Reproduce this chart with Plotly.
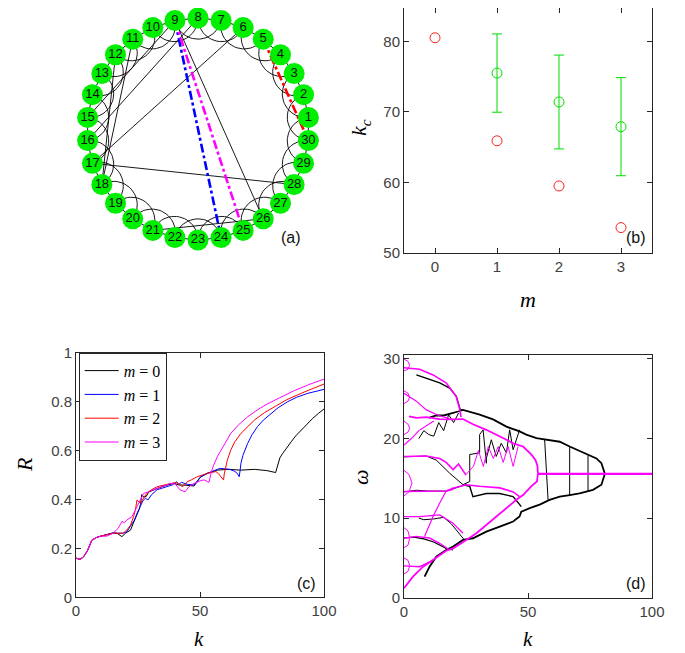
import math
import plotly.graph_objects as go

# ---------------- (a) network data ----------------
node_ids = list(range(1, 31))
ring_steps = [1, 2]
chords = [(9, 26), (9, 15), (8, 16), (6, 17), (17, 28), (21, 26), (12, 18), (11, 18)]
highlight_edges = [(5, 30), (9, 24), (9, 25)]
highlight_colors = ["#ff0000", "#0000ff", "#ff00ff"]

# ---------------- (b) data ----------------
m_vals = [0, 1, 2, 3]
kc_red = [80.5, 65.9, 59.5, 53.6]
m_green = [1, 2, 3]
kc_green = [75.5, 71.4, 67.9]
kc_green_err = [5.55, 6.65, 6.95]

# ---------------- (c) data ----------------
k0 = [0, 1.6, 3, 4.6, 6.4, 8.4, 10, 12.4, 15, 16.5, 17.5, 18.5, 20, 22, 23, 24.6, 25.5, 26, 26.5, 27.3, 28.3, 29.3,
      32.7, 36.8, 39.5, 41.5, 43.5, 47.6, 48.5, 50.3, 53, 57, 61, 66.5, 72, 77, 80.5, 81, 81.4, 82.2, 83.4, 85, 86.8,
      88.6, 90.8, 93, 95.5, 97.8, 100]
R0 = [0.16, 0.155, 0.165, 0.19, 0.234, 0.245, 0.25, 0.256, 0.264, 0.262, 0.255, 0.248, 0.262, 0.275, 0.30, 0.336, 0.36,
      0.38, 0.42, 0.41, 0.412, 0.43, 0.445, 0.459, 0.466, 0.459, 0.459, 0.455, 0.468, 0.493, 0.507, 0.52, 0.523, 0.52,
      0.523, 0.518, 0.51, 0.53, 0.548, 0.57, 0.589, 0.613, 0.636, 0.66, 0.684, 0.709, 0.732, 0.752, 0.77]
k1 = [0, 1.6, 3, 4.6, 6.4, 8.4, 10, 12.4, 15, 17, 19, 20.5, 22, 23.5, 24.6, 26, 27, 28, 29, 30.5, 32.7, 35, 37, 39,
      40.5, 41.5, 42.5, 44.9, 47.6, 50, 53, 55, 58, 62, 64, 65, 65.8, 66.2, 66.5, 67.3, 68.2, 69.2, 71, 73.2, 75.5,
      78.6, 81.5, 85.4, 89, 93.5, 97, 100]
R1 = [0.16, 0.155, 0.165, 0.19, 0.234, 0.245, 0.25, 0.256, 0.262, 0.262, 0.262, 0.268, 0.29, 0.315, 0.343, 0.37, 0.395,
      0.405, 0.398, 0.42, 0.44, 0.447, 0.455, 0.46, 0.472, 0.462, 0.47, 0.462, 0.459, 0.49, 0.507, 0.515, 0.527, 0.523,
      0.515, 0.507, 0.493, 0.52, 0.548, 0.58, 0.605, 0.629, 0.665, 0.698, 0.724, 0.752, 0.775, 0.8, 0.818, 0.834,
      0.844, 0.85]
k2 = [0, 1.6, 3, 4.6, 6.4, 8.4, 10, 12.4, 15, 17, 19, 20.5, 22, 23.2, 24, 24.6, 25.3, 26, 27.5, 28.6, 30.5, 32.7, 36,
      40.1, 41.5, 42.8, 44, 44.9, 46.5, 48.9, 51, 53, 56.4, 57.5, 58.4, 59.5, 59.8, 60.3, 61, 62.4, 64, 66.5, 69, 72,
      76, 80, 85, 90.8, 95, 100]
R2 = [0.16, 0.155, 0.165, 0.19, 0.234, 0.245, 0.25, 0.256, 0.262, 0.262, 0.262, 0.275, 0.295, 0.33, 0.36, 0.398, 0.39,
      0.384, 0.41, 0.425, 0.44, 0.452, 0.46, 0.469, 0.465, 0.452, 0.46, 0.473, 0.48, 0.493, 0.5, 0.507, 0.514, 0.505,
      0.493, 0.48, 0.505, 0.53, 0.56, 0.602, 0.635, 0.67, 0.697, 0.725, 0.755, 0.78, 0.808, 0.834, 0.852, 0.872]
k3 = [0, 1.6, 3, 4.6, 6.4, 8.4, 10, 12.4, 15, 17, 18, 18.5, 19.5, 20.5, 22.6, 24.6, 26, 27.3, 29, 30, 32.7, 35, 38, 40,
      41, 42, 43, 44, 45.5, 47.6, 50.3, 51.6, 53, 53.6, 54, 54.3, 54.6, 55.5, 57, 59, 62.4, 65.5, 69.2, 73, 77, 82, 88,
      94, 100]
R3 = [0.16, 0.155, 0.165, 0.19, 0.234, 0.245, 0.25, 0.25, 0.262, 0.282, 0.3, 0.31, 0.305, 0.316, 0.33, 0.37, 0.395,
      0.425, 0.43, 0.436, 0.445, 0.455, 0.466, 0.463, 0.452, 0.439, 0.435, 0.432, 0.452, 0.466, 0.477, 0.48, 0.473,
      0.47, 0.486, 0.5, 0.514, 0.54, 0.575, 0.61, 0.67, 0.705, 0.738, 0.765, 0.79, 0.815, 0.845, 0.87, 0.892]
legend_names = ["<i>m</i> = 0", "<i>m</i> = 1", "<i>m</i> = 2", "<i>m</i> = 3"]
curve_colors = ["#000000", "#0000ff", "#ff0000", "#ff00ff"]
R_ticks = [0, 0.2, 0.4, 0.6, 0.8, 1]
R_ticklabels = ["0", "0.2", "0.4", "0.6", "0.8", "1"]

# ---------------- (d) data (k, omega) ----------------
# m = 0 (black)
b_top_k = [81, 79.6, 77.6, 74.2, 70.8, 66.8, 62.8, 57.4, 53.4, 49.3, 46.6, 41.3, 35.9, 30.5, 26.5, 23.8, 21.8, 19.8, 16, 13, 10]
b_top_w = [15.57, 16.9, 17.5, 17.96, 18.4, 19.0, 19.6, 19.9, 20.06, 20.5, 20.9, 21.5, 22.4, 23.0, 23.4, 23.6, 23.4, 23.2, 22.9, 22.9, 22.6]
b_bot_k = [81, 79.6, 76.2, 70.8, 66.8, 62.8, 58.7, 54.7, 50.7, 47.3, 46.6, 44, 38.6, 33.2, 27.8, 23.8, 19.8, 17, 13, 10.3, 8.3]
b_bot_w = [15.57, 14.2, 13.55, 13.1, 12.9, 12.7, 12.3, 11.7, 11.25, 10.8, 10.2, 9.57, 8.94, 8.3, 7.47, 7.26, 6.42, 6.0, 5.16, 3.9, 2.64]
b_sync_k = [81, 100]
b_sync_w = [15.57, 15.57]
b_vert_k = [56.7, 58.1, None, 66.8, 66.8, None, 74.2, 74.2]
b_vert_w = [19.9, 12.3, None, 19.0, 12.9, None, 17.9, 13.4]
b_zig_k = [23.8, 26.5, 26.5, 30.5, 30.5, 31.9, 33.2, 33.2, 35.2, 37.2, 39.2, 41.3, 42.6, 44, 46.6]
b_zig_w = [14.2, 14.6, 18.0, 18.2, 20.5, 21.1, 16.9, 17.5, 19.85, 17.75, 19.4, 18.2, 21.1, 18.6, 21.1]
b_low_k = [23.8, 26.5, 27.8, 33.2, 38.6, 44, 47.3]
b_low_w = [14.2, 14.0, 12.7, 13.1, 13.1, 12.7, 11.45]
b_diag_k = [0, 5, 9, 13, 18.4, 23.8]
b_diag_w = [17.7, 17.8, 17.8, 17.3, 15.65, 14.2]
b_tl_k = [5, 9, 14.4, 18.4, 21.1, 22.7, 23.8]
b_tl_w = [28.0, 27.6, 27.0, 26.35, 25.3, 23.6, 23.6]
b_mid_k = [6, 8, 10, 12, 14, 16, 18, 20, 22]
b_mid_w = [20.0, 21.0, 20.5, 20.3, 22.0, 21.0, 23.0, 22.0, 23.2]
b_l7_k = [0, 4, 8, 12, 17, 19.8]
b_l7_w = [7.5, 7.6, 7.4, 7.0, 6.2, 6.0]
b_l10_k = [6, 8, 12, 16, 19, 22, 24]
b_l10_w = [10.0, 9.8, 9.9, 10.1, 9.3, 8.2, 7.4]
b_l13_k = [0, 5, 10, 17, 22, 24]
b_l13_w = [13.3, 13.5, 13.4, 13.4, 13.9, 14.1]
# m = 3 (magenta)
g_top_k = [54, 53.8, 53, 51.3, 48, 44, 41.3, 37.2, 33.2, 27.8, 23.8, 18.4, 14.4, 9, 5, 2]
g_top_w = [15.57, 16.6, 17.3, 18.0, 19.0, 19.4, 19.85, 20.5, 21.1, 21.8, 22.45, 22.4, 22.45, 22.7, 22.6, 22.8]
g_bot_k = [54, 53.6, 51.3, 48, 45.3, 41.3, 37.2, 33.2, 29.2, 25.1, 19.8, 17, 11.7, 7.7, 3.6, 0]
g_bot_w = [15.57, 14.6, 14.0, 12.9, 12.3, 11.25, 10.2, 9.15, 8.1, 7.26, 6.2, 5.9, 4.74, 3.9, 2.64, 1.2]
g_sync_k = [54, 100]
g_sync_w = [15.57, 15.57]
g_h13_k = [0, 5, 10, 17, 20, 25, 30.5, 38.6, 44, 46.6]
g_h13_w = [13.34, 13.34, 13.34, 13.4, 13.8, 14.2, 14.0, 13.8, 13.3, 12.7]
g_h17_k = [0, 5, 9, 14.4, 17, 19.8, 22, 25]
g_h17_w = [17.75, 17.8, 17.8, 17.5, 17.0, 16.1, 16.8, 15.4]
g_zig_k = [25, 28, 30, 32, 34, 36, 38, 40, 42, 44, 46]
g_zig_w = [15.5, 16.5, 18.5, 16.5, 19.0, 17.5, 19.0, 17.0, 19.0, 16.5, 19.0]
g_diag_k = [8.3, 11.7, 14.4, 17, 20]
g_diag_w = [7.7, 10.2, 11.9, 13.4, 13.6]
g_w7_k = [0, 5, 10.3, 14.4, 18.4]
g_w7_w = [7.47, 7.7, 7.5, 6.84, 6.0]
g_w4_k = [0, 6.3, 11.7]
g_w4_w = [4.0, 3.9, 4.7]
g_top2_k = [0, 6.3, 11.7, 17, 21, 22.4, 23]
g_top2_w = [28.9, 28.7, 28.0, 27.0, 25.3, 23.8, 22.7]
g_w25_k = [0, 5, 9, 14, 18.4]
g_w25_w = [25.7, 24.7, 23.6, 22.9, 22.5]
g_w20_k = [0, 3, 6, 9, 12]
g_w20_w = [19.2, 20.0, 21.0, 21.6, 22.2]
g_w10_k = [0, 6.3, 14.4, 19.8, 23.8]
g_w10_w = [10.2, 10.2, 10.4, 9.36, 8.1]
curl_k = [0, 1.6, 2.3, 1.6, 0]
curl_w = [[30.0, 29.7, 29.2, 28.7, 28.5], [26.0, 25.7, 25.2, 24.7, 24.4], [22.2, 21.8, 21.3, 20.8, 20.5],
          [8.8, 8.4, 7.5, 6.6, 6.3], [5.0, 4.7, 4.0, 3.3, 3.0]]
curl_big_k = [0, 2, 3.2, 2, 0]
curl_big_w = [16.0, 15.5, 14.4, 13.3, 12.8]

# ---------------- layout constants ----------------
OFF = 8                      # page body margin of the html page
W, H = 685 - OFF, 653 - OFF  # figure size so that the figure ends at the window edge
CX, CY, RN = 198.0, 129.0, 111.0
AXC = "#262626"
TICKC = "#404040"
SANS = "Liberation Sans, Arial, sans-serif"
SERIF = "Liberation Serif, Times New Roman, serif"


def px(xp):
    return min(1.0, max(0.0, (xp - OFF) / W))


def py(yp):
    return min(1.0, max(0.0, 1 - (yp - OFF) / H))


def node_angle(k):
    return math.radians(6 + 12 * (k - 1))


def node_xy(k):
    a = node_angle(k)
    return CX + RN * math.cos(a), CY - RN * math.sin(a)


def arc_points(i, j, n=24):
    a, b = node_angle(i), node_angle(j)
    d = ((b - a + math.pi) % (2 * math.pi)) - math.pi
    half = abs(d) / 2
    mid = a + d / 2
    cd = 1 / math.cos(half)
    cx, cy = cd * math.cos(mid), cd * math.sin(mid)
    rr = math.tan(half)
    ux, uy = math.cos(a), math.sin(a)
    vx, vy = math.cos(b), math.sin(b)
    pu = math.atan2(uy - cy, ux - cx)
    pv = math.atan2(vy - cy, vx - cx)
    dp = ((pv - pu + math.pi) % (2 * math.pi)) - math.pi
    xs, ys = [], []
    for t in range(n + 1):
        ph = pu + dp * t / n
        x = cx + rr * math.cos(ph)
        y = cy + rr * math.sin(ph)
        xs.append(CX + RN * x)
        ys.append(CY - RN * y)
    return xs, ys


fig = go.Figure()

# ---- panel (a)
ex, ey = [], []
for k in node_ids:
    for s in ring_steps:
        j = (k - 1 + s) % 30 + 1
        if s == 1:
            x1, y1 = node_xy(k)
            x2, y2 = node_xy(j)
            ex += [x1, x2, None]
            ey += [y1, y2, None]
        else:
            xs, ys = arc_points(k, j)
            ex += xs + [None]
            ey += ys + [None]
for (i, j) in chords:
    x1, y1 = node_xy(i)
    x2, y2 = node_xy(j)
    ex += [x1, x2, None]
    ey += [y1, y2, None]
fig.add_trace(go.Scatter(x=ex, y=ey, mode="lines", line=dict(color="#000000", width=0.9),
                         xaxis="x", yaxis="y", showlegend=False, hoverinfo="skip"))
for (i, j), c in zip(highlight_edges, highlight_colors):
    x1, y1 = node_xy(i)
    x2, y2 = node_xy(j)
    fig.add_trace(go.Scatter(x=[x1, x2], y=[y1, y2], mode="lines", line=dict(color=c, width=2.6, dash="dashdot"),
                             xaxis="x", yaxis="y", showlegend=False, hoverinfo="skip"))
nx = [node_xy(k)[0] for k in node_ids]
ny = [node_xy(k)[1] for k in node_ids]
fig.add_trace(go.Scatter(x=nx, y=ny, mode="markers+text", text=[str(k) for k in node_ids],
                         textposition="middle center",
                         textfont=dict(family=SANS, size=13, color="#111111"),
                         marker=dict(size=21, color="#00ee00", line=dict(width=0)),
                         xaxis="x", yaxis="y", showlegend=False, hoverinfo="skip"))

# ---- panel (b)
fig.add_trace(go.Scatter(x=m_green, y=kc_green, mode="markers",
                         error_y=dict(type="data", array=kc_green_err, color="#00dd00", thickness=1, width=5),
                         marker=dict(symbol="circle-open", size=10, color="#00dd00", line=dict(width=1)),
                         xaxis="x2", yaxis="y2", showlegend=False))
fig.add_trace(go.Scatter(x=m_vals, y=kc_red, mode="markers",
                         marker=dict(symbol="circle-open", size=10, color="#ff2020", line=dict(width=1)),
                         xaxis="x2", yaxis="y2", showlegend=False))

# ---- panel (c)
for kk, rr, nm, c in zip([k0, k1, k2, k3], [R0, R1, R2, R3], legend_names, curve_colors):
    fig.add_trace(go.Scatter(x=kk, y=rr, mode="lines", name=nm, line=dict(color=c, width=1),
                             xaxis="x3", yaxis="y3", showlegend=True))

# ---- panel (d)
d_black = [(b_top_k, b_top_w, 1.8), (b_bot_k, b_bot_w, 1.8), (b_sync_k, b_sync_w, 1.8),
           (b_vert_k, b_vert_w, 1.0), (b_zig_k, b_zig_w, 1.0), (b_low_k, b_low_w, 1.4),
           (b_diag_k, b_diag_w, 1.0), (b_tl_k, b_tl_w, 1.4), (b_mid_k, b_mid_w, 1.0),
           (b_l7_k, b_l7_w, 1.2), (b_l10_k, b_l10_w, 1.0), (b_l13_k, b_l13_w, 1.0)]
d_mag = [(g_top_k, g_top_w, 1.8), (g_bot_k, g_bot_w, 1.8), (g_sync_k, g_sync_w, 2.2),
         (g_h13_k, g_h13_w, 1.6), (g_h17_k, g_h17_w, 1.6), (g_zig_k, g_zig_w, 1.0),
         (g_diag_k, g_diag_w, 1.2), (g_w7_k, g_w7_w, 1.4), (g_w4_k, g_w4_w, 1.4),
         (g_top2_k, g_top2_w, 1.6), (g_w25_k, g_w25_w, 1.2), (g_w20_k, g_w20_w, 1.2),
         (g_w10_k, g_w10_w, 1.2), (curl_big_k, curl_big_w, 1.0)]
for cw in curl_w:
    d_mag.append((curl_k, cw, 1.0))
for kk, ww, lw in d_black:
    fig.add_trace(go.Scatter(x=kk, y=ww, mode="lines", line=dict(color="#000000", width=lw),
                             xaxis="x4", yaxis="y4", showlegend=False, hoverinfo="skip"))
for kk, ww, lw in d_mag:
    fig.add_trace(go.Scatter(x=kk, y=ww, mode="lines", line=dict(color="#ff00ff", width=lw),
                             xaxis="x4", yaxis="y4", showlegend=False, hoverinfo="skip"))


def ax_style(rng, tickvals, dom, anchor, ticktext=None):
    d = dict(domain=dom, range=rng, tickvals=tickvals, ticks="inside", ticklen=5, tickcolor=AXC,
             showline=True, linecolor=AXC, linewidth=1, mirror="ticks", showgrid=False, zeroline=False,
             automargin=False, anchor=anchor,
             tickfont=dict(family=SANS, size=15, color=TICKC))
    if ticktext is not None:
        d["ticktext"] = ticktext
    return d


fig.update_layout(
    width=W, height=H, margin=dict(l=0, r=0, t=0, b=0, autoexpand=False),
    paper_bgcolor="white", plot_bgcolor="rgba(0,0,0,0)",
    xaxis=dict(domain=[0, px(340)], range=[OFF, 340], visible=False, automargin=False),
    yaxis=dict(domain=[py(260), 1], range=[260, OFF], visible=False, automargin=False),
    xaxis2=ax_style([-0.5, 3.5], [0, 1, 2, 3], [px(404), px(652)], "y2"),
    yaxis2=ax_style([50, 84.72], [50, 60, 70, 80], [py(253), py(8)], "x2"),
    xaxis3=ax_style([0, 100], [0, 50, 100], [px(76), px(324)], "y3"),
    yaxis3=ax_style([0, 1], R_ticks, [py(597.3), py(352.7)], "x3", R_ticklabels),
    xaxis4=ax_style([0, 100], [0, 50, 100], [px(404), px(652)], "y4"),
    yaxis4=ax_style([0, 30.5], [0, 10, 20, 30], [py(597.7), py(355)], "x4"),
    legend=dict(x=px(78.7), y=py(352.7), xanchor="left", yanchor="top", bgcolor="white",
                bordercolor=AXC, borderwidth=1, font=dict(family=SERIF, size=16, color="#000000"),
                itemwidth=34, tracegroupgap=0),
)

ann = []
for txt, xp_, yp_ in [("(a)", 291, 238), ("(b)", 636, 238), ("(c)", 306, 583), ("(d)", 636, 583)]:
    ann.append(dict(text=txt, x=px(xp_), y=py(yp_), xref="paper", yref="paper", showarrow=False,
                    xanchor="center", yanchor="middle",
                    font=dict(family=SANS, size=16, color="#111111")))
for txt, xp_, yp_, ang, fs in [("<i>k</i><sub><i>c</i></sub>", 360, 127, -90, 22), ("<i>m</i>", 528, 299, 0, 22),
                               ("<i>R</i>", 25, 465, -90, 22), ("<i>k</i>", 199, 639, 0, 21),
                               ("<i>ω</i>", 360, 477, -90, 22), ("<i>k</i>", 528, 639, 0, 21)]:
    ann.append(dict(text=txt, x=px(xp_), y=py(yp_), xref="paper", yref="paper", showarrow=False,
                    xanchor="center", yanchor="middle",
                    textangle=ang, borderpad=0, font=dict(family=SERIF, size=fs, color="#000000")))
fig.update_layout(annotations=ann)

fig.write_html("out.html")
